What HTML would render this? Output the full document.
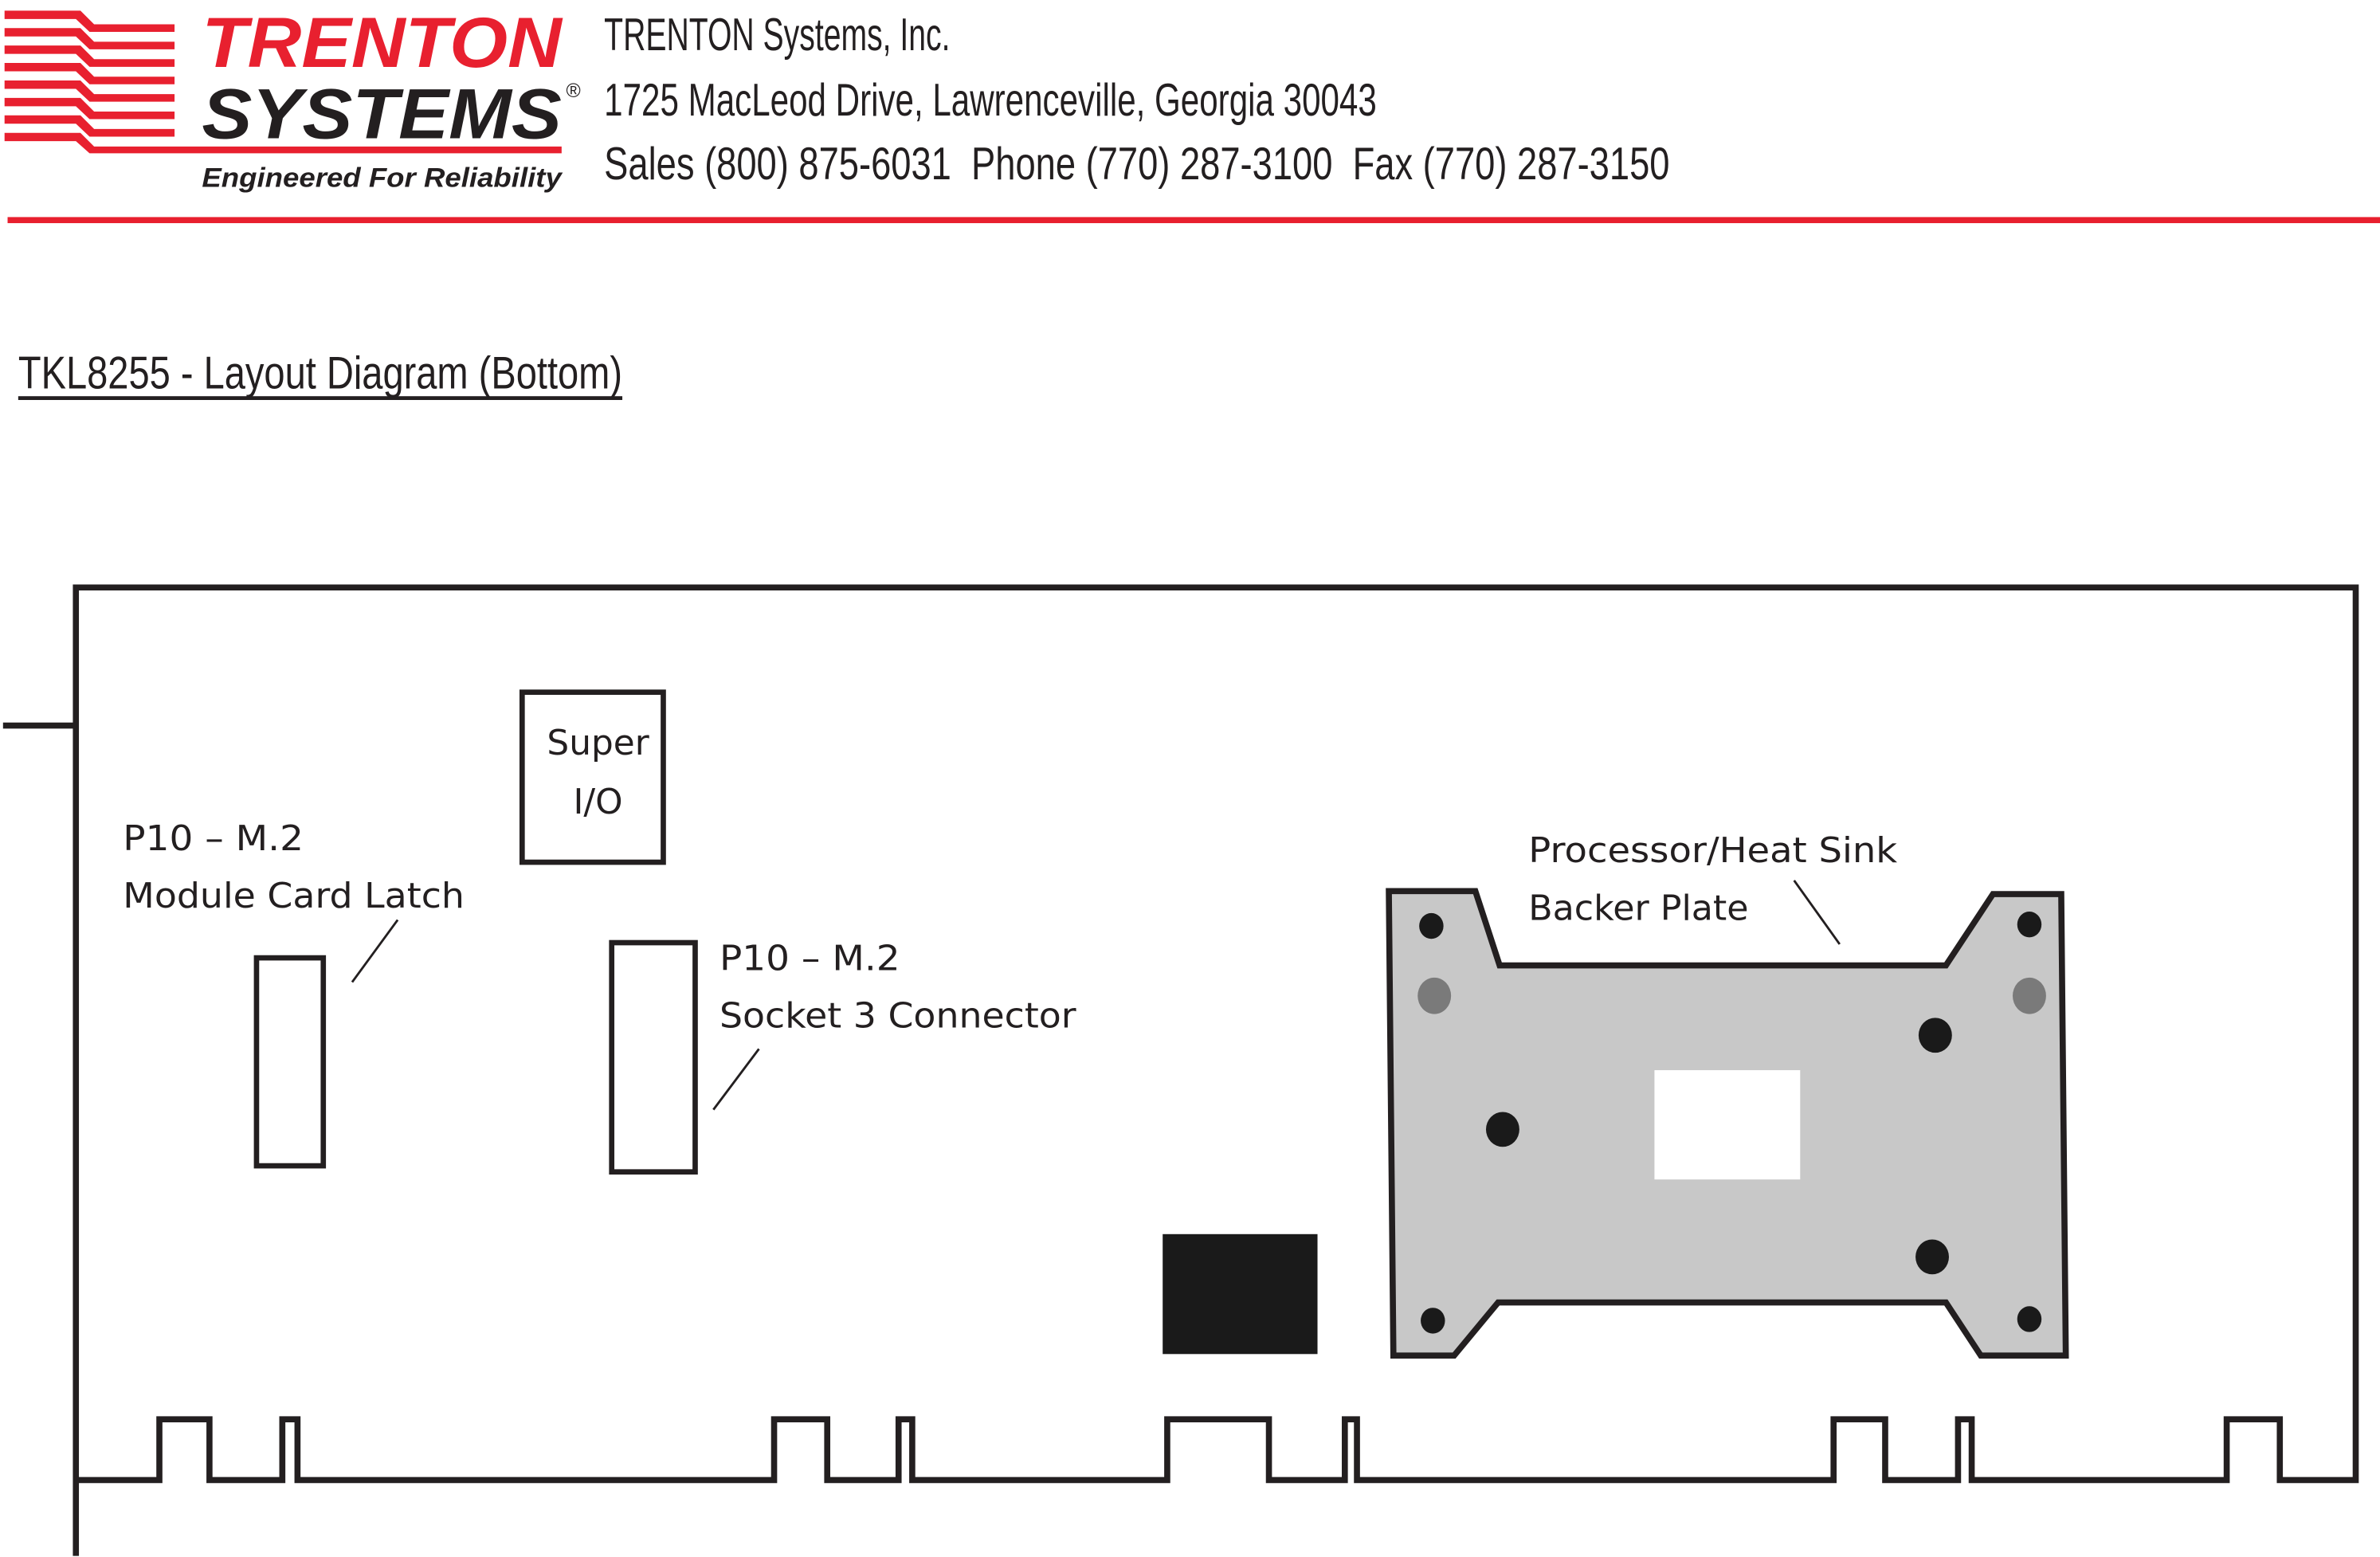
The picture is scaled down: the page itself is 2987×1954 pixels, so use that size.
<!DOCTYPE html>
<html><head><meta charset="utf-8"><style>
html,body{margin:0;padding:0;background:#fff;}
svg{display:block;}
</style></head><body>
<svg width="2987" height="1954" viewBox="0 0 1568 1025.7" preserveAspectRatio="none" xmlns="http://www.w3.org/2000/svg">
<rect width="1568" height="1026" fill="#fff"/>
<!-- logo stripes -->
<g fill="#e8202f">
<path d="M3,7 H53 L62,16 H115 V21 H59 L50,12.5 H3Z"/>
<path d="M3,18.5 H53 L62,27.5 H115 V32.5 H59 L50,24 H3Z"/>
<path d="M3,30 H53 L62,39 H115 V44 H59 L50,35.5 H3Z"/>
<path d="M3,41.5 H53 L62,50.5 H115 V55.5 H59 L50,47 H3Z"/>
<path d="M3,53 H53 L62,62 H115 V67 H59 L50,58.5 H3Z"/>
<path d="M3,64.5 H53 L62,73.5 H115 V78.5 H59 L50,70 H3Z"/>
<path d="M3,76 H53 L62,85 H115 V90 H59 L50,81.5 H3Z"/>
<path d="M3,87.5 H53 L62,96.5 H370 V101 H59 L50,93 H3Z"/>
</g>
<g font-family="Liberation Sans, sans-serif" font-weight="bold" font-style="italic">
<text x="133" y="44" font-size="47" fill="#e8202f" textLength="237" lengthAdjust="spacingAndGlyphs">TRENTON</text>
<text x="133" y="91" font-size="47" fill="#231f20" textLength="237" lengthAdjust="spacingAndGlyphs">SYSTEMS</text>
<text x="133" y="123" font-size="18" fill="#231f20" textLength="237" lengthAdjust="spacingAndGlyphs">Engineered For Reliability</text>
</g>
<text x="373" y="64" font-family="Liberation Sans, sans-serif" font-size="13" fill="#231f20">®</text>
<g font-family="Liberation Sans, sans-serif" font-size="30" fill="#231f20">
<text x="398" y="33" textLength="228" lengthAdjust="spacingAndGlyphs">TRENTON Systems, Inc.</text>
<text x="398" y="76" textLength="509" lengthAdjust="spacingAndGlyphs">1725 MacLeod Drive, Lawrenceville, Georgia 30043</text>
<text x="398" y="118" textLength="702" lengthAdjust="spacingAndGlyphs">Sales (800) 875-6031&#160; Phone (770) 287-3100&#160; Fax (770) 287-3150</text>
<text x="12" y="256" textLength="398" lengthAdjust="spacingAndGlyphs">TKL8255 - Layout Diagram (Bottom)</text>
</g>
<rect x="12" y="261" width="398" height="2.5" fill="#231f20"/>
<rect x="5" y="143" width="1563" height="4" fill="#e8202f"/>
<!-- board -->
<g fill="none" stroke="#231f20" stroke-width="4">
<path d="M50,1025 V387 H1552 V975 H1502 V935 H1467 V975 H1299 V935 H1290 V975 H1242 V935 H1208 V975 H894 V935 H886 V975 H836 V935 H769 V975 H601 V935 H592 V975 H545 V935 H510 V975 H196 V935 H186 V975 H138 V935 H105 V975 H50"/>
<path d="M2,478 H50"/>
<rect x="344" y="456" width="93" height="112" stroke-width="3.5"/>
<rect x="169" y="631" width="44" height="137" stroke-width="3.5"/>
<rect x="403" y="621" width="55" height="151" stroke-width="3.5"/>
</g>
<g stroke="#231f20" stroke-width="1.5">
<line x1="232" y1="647" x2="262" y2="606"/>
<line x1="470" y1="731" x2="500" y2="691"/>
<line x1="1182" y1="580" x2="1212" y2="622"/>
</g>
<rect x="766" y="813" width="102" height="79" fill="#1a1a1a"/>
<path d="M915,587 H972 L988,636 H1282 L1313,589 H1358 L1361,893 H1305 L1282,858 H987 L958,893 H918 Z" fill="#c8c8c8" stroke="#231f20" stroke-width="4"/>
<rect x="1090" y="705" width="96" height="72" fill="#fff"/>
<g fill="#1a1a1a">
<ellipse cx="943" cy="610" rx="8" ry="8.5"/>
<ellipse cx="1337" cy="609" rx="8" ry="8.5"/>
<ellipse cx="1275" cy="682" rx="11" ry="11.5"/>
<ellipse cx="990" cy="744" rx="11" ry="11.5"/>
<ellipse cx="1273" cy="828" rx="11" ry="11.5"/>
<ellipse cx="944" cy="870" rx="8" ry="8.5"/>
<ellipse cx="1337" cy="869" rx="8" ry="8.5"/>
</g>
<g fill="#7a7a7a">
<ellipse cx="945" cy="656" rx="11" ry="12"/>
<ellipse cx="1337" cy="656" rx="11" ry="12"/>
</g>
<g font-family="DejaVu Sans, Liberation Sans, sans-serif" font-size="23" fill="#231f20">
<text x="394" y="497" text-anchor="middle">Super</text>
<text x="394" y="536" text-anchor="middle">I/O</text>
<text x="81" y="560" textLength="119" lengthAdjust="spacingAndGlyphs">P10 – M.2</text>
<text x="81" y="598" textLength="225" lengthAdjust="spacingAndGlyphs">Module Card Latch</text>
<text x="474" y="639" textLength="119" lengthAdjust="spacingAndGlyphs">P10 – M.2</text>
<text x="474" y="677" textLength="235" lengthAdjust="spacingAndGlyphs">Socket 3 Connector</text>
<text x="1007" y="568" textLength="243" lengthAdjust="spacingAndGlyphs">Processor/Heat Sink</text>
<text x="1007" y="606" textLength="145" lengthAdjust="spacingAndGlyphs">Backer Plate</text>
</g>
</svg>
</body></html>
